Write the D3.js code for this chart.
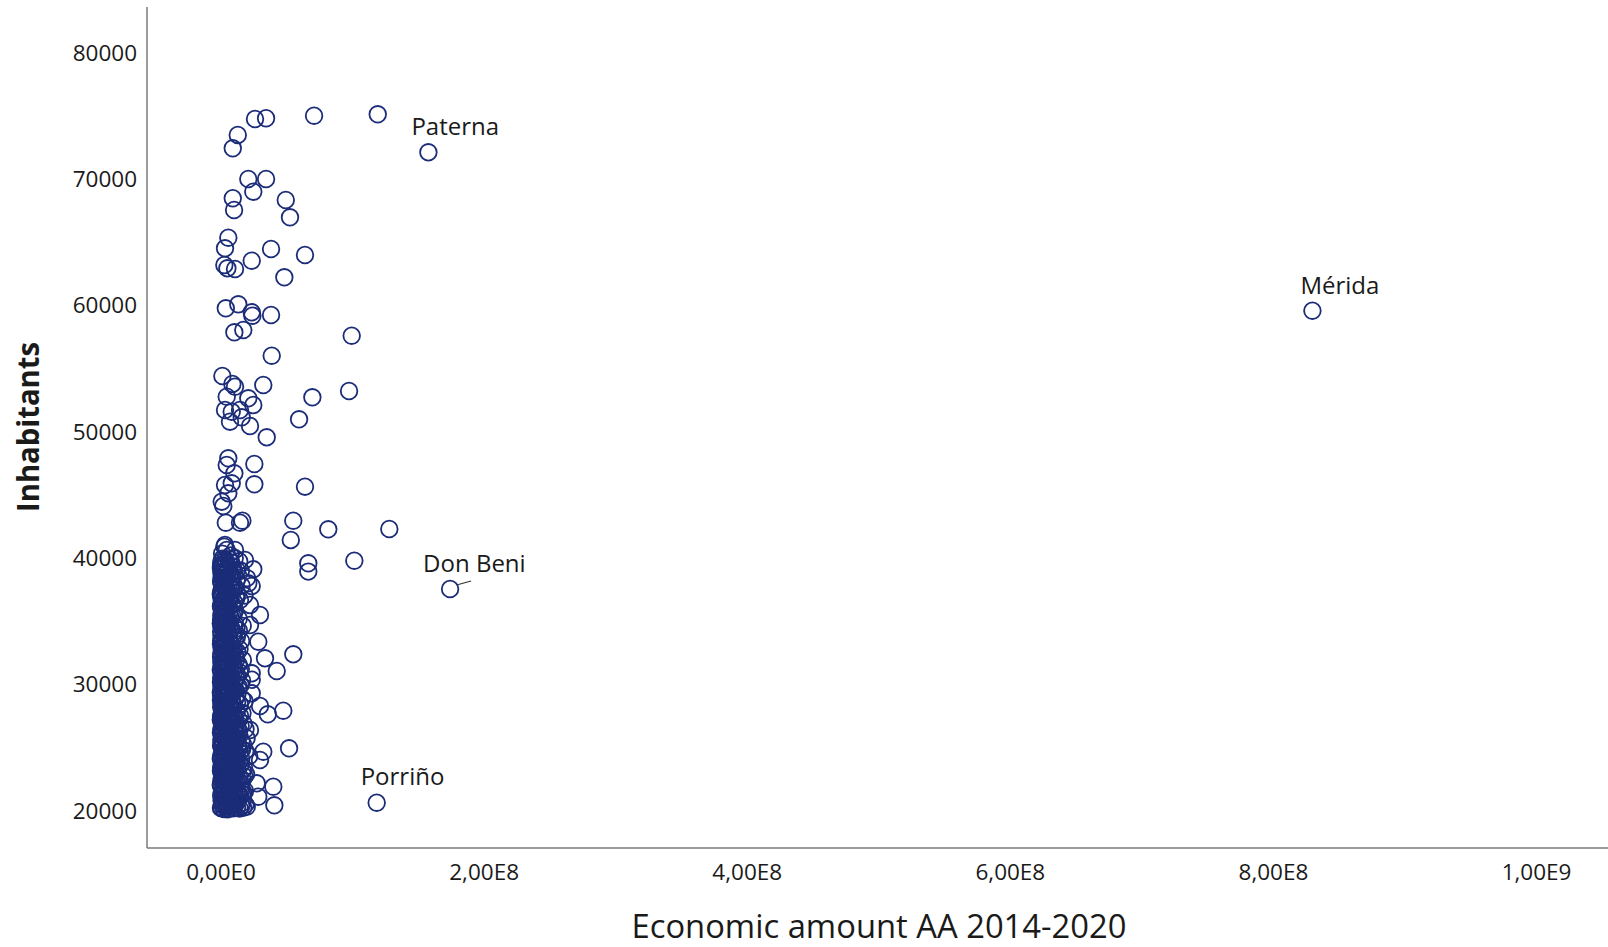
<!DOCTYPE html>
<html>
<head>
<meta charset="utf-8">
<script src="https://cdn.jsdelivr.net/npm/d3@7"></script>
<style>
  html, body { margin: 0; padding: 0; background: #fff; }
  svg { display: block; }
</style>
</head>
<body>
<svg id="chart" width="1608" height="947"></svg>
<script>
// ---------------- DATA ----------------
// Each point: [economic amount AA 2014-2020 in millions of euros, inhabitants]
const sparsePoints = [
  [26.2,74713],[34.6,74770],[71.1,74975],[119.5,75085],[13.1,73447],[9.3,72393],[21.1,69963],[34.6,69963],
  [24.9,68957],[9.3,68435],[10.3,67508],[49.6,68300],[52.8,66930],[5.9,65314],[3.4,64475],[38.4,64420],
  [64.2,63945],[23.7,63494],[2.9,63153],[5.2,62892],[11.0,62836],[48.5,62179],[4.0,59724],[13.5,60041],
  [23.7,59408],[24.2,59139],[38.4,59194],[10.5,57824],[17.3,58006],[99.7,57555],[38.9,55971],[1.4,54364],
  [9.0,53731],[11.0,53517],[32.5,53652],[4.7,52726],[21.1,52598],[24.9,52068],[69.8,52678],[97.7,53176],
  [3.4,51672],[8.5,51537],[14.8,51672],[7.2,50746],[16.1,51094],[22.4,50405],[59.7,50936],[35.1,49511],
  [5.9,47848],[4.7,47317],[10.5,46660],[25.7,47396],[3.4,45734],[8.5,45868],[5.9,45076],[25.7,45789],
  [64.2,45599],[0.9,44411],[2.1,44071],[4.0,42748],[14.8,42748],[16.6,42907],[55.3,42907],[53.4,41379],
  [81.9,42226],[128.3,42250],[3.4,40983],[4.7,40587],[11.0,40587],[18.6,39795],[24.9,39059],[0.3,39264],
  [5.9,39217],[12.3,39003],[66.7,39534],[66.7,38874],[101.7,39739],[0.9,37950],[8.5,37816],[23.7,37736],
  [30.0,35440],[28.7,33326],[33.8,32012],[55.3,32329],[42.7,31006],[23.7,30824],[21.1,37950],[22.4,36232],
  [22.4,34648],[47.7,27863],[30.0,28235],[35.9,27578],[52.1,24885],[32.5,24616],[30.0,23959],[40.1,21845],
  [40.9,20372],[27.5,22114],[19.9,20261],[28.7,21053],[22.4,26334],[23.7,29240],[23.7,30310]
];

const densePoints = [
  [0.3,20150],[1.2,20420],[2.8,20080],[4.5,20610],[6.1,20290],[7.9,20830],[9.6,20140],[11.8,20520],[13.4,20950],[15.7,20310],[0.8,20760],[3.6,20880],[5.4,20050],[8.7,20470],[10.9,20700],[17.2,20180],[2.1,20350],[12.6,20230],
  [0.5,21120],[1.9,21560],[3.3,21840],[4.8,21270],[6.6,21690],[8.2,21030],[9.9,21410],[11.3,21880],[13.8,21220],[16.1,21630],[0.2,21950],[2.7,21330],[5.9,21480],[7.4,21770],[14.9,21090],[18.6,21510],
  [0.4,22060],[1.6,22430],[3.1,22790],[4.2,22210],[5.7,22620],[7.1,22940],[8.8,22330],[10.4,22710],[12.2,22150],[14.3,22560],[0.9,22880],[2.4,22280],[6.4,22480],[9.3,22020],[16.8,22390],[19.4,22830],
  [0.3,23110],[1.4,23520],[2.9,23860],[4.6,23250],[6.0,23690],[7.7,23040],[9.2,23430],[11.1,23810],[13.0,23180],[15.3,23600],[0.7,23950],[3.8,23370],[8.4,23740],[10.6,23090],[17.9,23280],
  [0.2,24070],[1.3,24480],[2.6,24850],[4.0,24230],[5.5,24640],[7.3,24910],[8.9,24320],[10.8,24710],[12.7,24140],[14.6,24550],[1.0,24920],[3.4,24390],[6.8,24010],[16.4,24800],[21.8,24270],
  [0.4,25090],[1.8,25470],[3.2,25830],[4.9,25210],[6.3,25620],[7.8,25950],[9.5,25350],[11.6,25740],[13.5,25130],[0.6,25560],[2.3,25290],[5.2,25910],[8.5,25060],[15.9,25420],[19.8,25680],
  [0.3,26120],[1.5,26540],[2.8,26870],[4.4,26260],[6.2,26680],[7.6,26030],[9.7,26410],[11.9,26790],[0.8,26950],[3.7,26370],[5.6,26020],[10.2,26590],[14.1,26240],[17.5,26830],
  [0.2,27140],[1.7,27510],[3.0,27880],[4.7,27270],[6.5,27700],[8.1,27060],[9.8,27430],[12.4,27820],[0.9,27360],[2.5,27960],[5.3,27590],[7.2,27230],[13.9,27150],[16.7,27680],
  [0.5,28160],[1.3,28580],[2.7,28930],[4.3,28320],[5.8,28740],[7.5,28090],[9.4,28470],[11.2,28850],[0.3,28700],[3.5,28250],[6.9,28510],[14.7,28380],[18.3,28620],
  [0.4,29080],[1.9,29460],[3.3,29830],[4.8,29250],[6.4,29660],[8.0,29940],[10.1,29370],[12.8,29150],[0.7,29720],[2.2,29540],[5.1,29010],[15.2,29890],
  [0.3,30130],[1.6,30570],[2.9,30900],[4.5,30280],[6.2,30710],[8.6,30420],[10.7,30060],[0.8,30840],[3.6,30350],[12.9,30630],[16.3,30250],
  [0.2,31100],[1.4,31480],[3.1,31850],[4.9,31230],[6.7,31620],[8.3,31950],[10.3,31340],[0.6,31700],[2.4,31260],[13.6,31540],[17.0,31880],
  [0.4,32090],[1.8,32530],[3.4,32870],[5.2,32240],[7.0,32660],[9.1,32410],[11.5,32160],[0.9,32780],[2.6,32350],[14.4,32720],
  [0.3,33150],[1.5,33560],[2.8,33920],[4.6,33310],[6.3,33700],[8.8,33040],[10.9,33470],[0.7,33810],[3.9,33220],[15.6,33380],
  [0.5,34110],[1.7,34490],[3.2,34860],[5.0,34270],[7.4,34650],[9.6,34030],[12.1,34390],[0.2,34770],[2.3,34330],[16.9,34580],
  [0.4,35070],[1.3,35520],[2.9,35890],[4.7,35230],[6.6,35640],[8.9,35380],[11.0,35810],[0.8,35960],[3.5,35300],[13.8,35150],
  [0.3,36140],[1.9,36560],[3.6,36910],[5.4,36290],[7.7,36700],[10.4,36420],[0.6,36800],[2.2,36350],[14.8,36620],[18.2,36980],
  [0.2,37080],[1.6,37470],[3.0,37830],[5.1,37250],[7.3,37610],[9.9,37390],[0.9,37920],[4.2,37540],[12.6,37140],[16.0,37760],
  [0.4,38130],[1.4,38550],[2.7,38890],[4.4,38300],[6.8,38670],[9.2,38460],[12.3,38210],[0.7,38750],[15.5,38940],[20.1,38360],
  [0.3,39120],[1.8,39480],[3.3,39820],[5.6,39270],[8.1,39600],[10.8,39950],[0.5,39390],[14.2,39700],
  [1.2,40300],[2.9,40850],[7.6,40150]
];

// Second batch of small municipalities read from the densest part of the cloud
const densePoints2 = [
  [0.6,20240],[2.4,20560],[3.9,20330],[5.9,20720],[7.2,20410],[9.1,20900],[10.3,20380],[12.1,20640],[14.5,20110],[16.6,20590],[1.7,20990],[4.8,20170],[18.9,20440],
  [0.9,21300],[2.2,21700],[3.9,21060],[5.3,21920],[7.0,21380],[8.8,21830],[10.6,21170],[12.5,21540],[15.4,21780],[1.1,21450],[17.4,21260],
  [0.7,22350],[2.0,22680],[3.6,22100],[4.9,22970],[6.8,22240],[8.1,22780],[9.8,22520],[11.3,22870],[13.2,22400],[15.6,22090],[1.3,22560],[18.1,22650],
  [0.5,23390],[2.1,23740],[3.3,23060],[5.3,23580],[6.9,23910],[8.6,23300],[10.2,23640],[12.0,23450],[14.1,23870],[16.6,23120],[1.9,23200],
  [0.6,24310],[1.9,24680],[3.0,24120],[4.7,24830],[6.2,24470],[7.9,24190],[9.6,24600],[11.7,24380],[13.6,24870],[15.7,24060],[2.2,24560],[18.8,24680],
  [0.8,25330],[2.6,25720],[4.1,25480],[5.7,25150],[7.1,25380],[8.9,25810],[10.4,25230],[12.5,25570],[14.4,25880],[1.4,25960],[17.1,25180],
  [0.6,26370],[2.1,26160],[3.3,26720],[5.0,26490],[6.9,26290],[8.4,26850],[10.9,26110],[12.9,26480],[15.3,26650],[1.2,26780],[19.0,26390],
  [0.4,27420],[2.3,27260],[3.6,27640],[5.9,27110],[7.8,27530],[9.1,27890],[10.9,27310],[14.8,27460],[1.3,27770],[4.2,27970],
  [0.8,28390],[2.0,28120],[3.9,28630],[5.2,28940],[6.6,28260],[8.5,28710],[10.3,28220],[12.6,28540],[16.4,28810],[1.7,28860],
  [0.2,29310],[1.3,29920],[2.8,29190],[4.2,29560],[5.7,29830],[7.3,29270],[9.2,29610],[11.4,29480],[13.8,29750],[3.6,29390],
  [0.5,30460],[2.3,30190],[3.9,30690],[5.4,30960],[7.1,30260],[9.6,30780],[11.8,30390],[1.2,30300],[14.6,30890],
  [0.9,31390],[2.1,31800],[3.8,31090],[5.7,31470],[7.5,31230],[9.3,31720],[11.9,31900],[1.6,31590],[15.4,31170],
  [0.6,32420],[2.2,32150],[4.1,32580],[6.1,32930],[8.1,32300],[10.2,32720],[1.3,32960],[12.8,32500],
  [0.5,33420],[2.1,33090],[3.4,33650],[5.4,33900],[7.6,33250],[9.8,33780],[1.2,33310],[12.4,33690],
  [0.8,34420],[2.6,34070],[4.1,34620],[6.2,34950],[8.3,34340],[10.8,34760],[1.4,34900],[13.9,34220],
  [0.6,35420],[2.1,35160],[4.0,35700],[5.8,35940],[7.8,35250],[10.1,35550],[1.7,35740],
  [0.9,36410],[2.8,36180],[4.5,36620],[6.5,36880],[9.0,36250],[1.3,36950],[12.0,36770],
  [0.5,37330],[2.3,37680],[3.9,37120],[6.1,37890],[8.4,37450],[1.2,37240],[11.1,37620],
  [0.8,38380],[2.1,38200],[3.6,38650],[5.5,38940],[7.9,38320],[1.1,38840],[10.6,38710],
  [0.6,39650],[2.4,39160],[4.3,39540],[6.9,39850],[1.4,39900],[9.4,39220]
];

const labelNames = ["Paterna", "Mérida", "Don Beni", "Porriño"];
const labelAmounts = [158.0, 830.0, 174.5, 118.7];          // millions of euros
const labelInhabitants = [72075, 59533, 37498, 20578];

const xTickValues = [0, 2e8, 4e8, 6e8, 8e8, 1e9];
const xTickLabels = ["0,00E0", "2,00E8", "4,00E8", "6,00E8", "8,00E8", "1,00E9"];
const yTickValues = [20000, 30000, 40000, 50000, 60000, 70000, 80000];
const yTickLabels = ["20000", "30000", "40000", "50000", "60000", "70000", "80000"];

const xTitle = "Economic amount AA 2014-2020";
const yTitle = "Inhabitants";

// ---------------- LAYOUT / STYLE ----------------
const layout = {
  left: 147, right: 1608, top: 7, bottom: 848,
  xDomain: [-55.9e6, 1054.7e6],
  yDomain: [16990, 83580],
  r: 8.3
};
const labelOffsets = {
  "Paterna": [-17, -17],
  "Mérida": [-12, -17],
  "Don Beni": [-27, -17],
  "Porriño": [-16, -18]
};
const pointColor = "#1b2c78";
const textColor = "#1a1a1a";
const axisColor = "#7a7a7a";
const FONT = "'Open Sans', 'DejaVu Sans', sans-serif";

// ---------------- DRAW ----------------
const svg = d3.select("#chart");
svg.append("rect").attr("width", 1608).attr("height", 947).attr("fill", "#fff");

const x = d3.scaleLinear().domain(layout.xDomain).range([layout.left, layout.right]);
const y = d3.scaleLinear().domain(layout.yDomain).range([layout.bottom, layout.top]);

// Y axis
const yAxis = d3.axisLeft(y)
  .tickValues(yTickValues)
  .tickFormat((d, i) => yTickLabels[i])
  .tickSize(0).tickPadding(10);
const gy = svg.append("g").attr("transform", `translate(${layout.left},0)`).call(yAxis);
gy.select(".domain").attr("stroke", axisColor).attr("stroke-width", 1.5)
  .attr("d", `M0,${layout.top}V${layout.bottom}`);
gy.selectAll("text").attr("font-family", FONT).attr("font-size", 22.5)
  .attr("fill", textColor).attr("dy", "0.36em");

// X axis
const xAxis = d3.axisBottom(x)
  .tickValues(xTickValues)
  .tickFormat((d, i) => xTickLabels[i])
  .tickSize(0).tickPadding(0);
const gx = svg.append("g").attr("transform", `translate(0,${layout.bottom})`).call(xAxis);
gx.select(".domain").attr("stroke", axisColor).attr("stroke-width", 1.5)
  .attr("d", `M${layout.left},0H${layout.right}`);
gx.selectAll("text").attr("font-family", FONT).attr("font-size", 22.5)
  .attr("fill", textColor).attr("y", 32).attr("dy", 0);

// Axis titles
svg.append("text")
  .attr("x", 879).attr("y", 938)
  .attr("text-anchor", "middle")
  .attr("font-family", FONT).attr("font-size", 32)
  .attr("textLength", 495).attr("lengthAdjust", "spacingAndGlyphs")
  .attr("fill", textColor)
  .text(xTitle);

svg.append("text")
  .attr("transform", "translate(38.5,427) rotate(-90)")
  .attr("text-anchor", "middle")
  .attr("font-family", FONT).attr("font-size", 31).attr("font-weight", "bold")
  .attr("textLength", 170).attr("lengthAdjust", "spacingAndGlyphs")
  .attr("fill", textColor)
  .text(yTitle);

// Points
const allPoints = densePoints.concat(densePoints2).concat(sparsePoints)
  .concat(labelAmounts.map((a, i) => [a, labelInhabitants[i]]));

svg.append("g")
  .selectAll("circle")
  .data(allPoints)
  .join("circle")
  .attr("cx", d => x(d[0] * 1e6))
  .attr("cy", d => y(d[1]))
  .attr("r", layout.r)
  .attr("fill", "none")
  .attr("stroke", pointColor)
  .attr("stroke-width", 1.8);

// Labels
const labels = labelNames.map((n, i) => ({ name: n, a: labelAmounts[i] * 1e6, v: labelInhabitants[i] }));
svg.append("g").selectAll("text")
  .data(labels)
  .join("text")
  .attr("x", d => x(d.a) + labelOffsets[d.name][0])
  .attr("y", d => y(d.v) + labelOffsets[d.name][1])
  .attr("font-family", FONT).attr("font-size", 24)
  .attr("fill", textColor)
  .text(d => d.name);

// Leader line for Don Beni
const db = labels.find(d => d.name === "Don Beni");
svg.append("line")
  .attr("x1", x(db.a) + 6.5).attr("y1", y(db.v) - 4)
  .attr("x2", x(db.a) + 21).attr("y2", y(db.v) - 8)
  .attr("stroke", "#333").attr("stroke-width", 1.2);
</script>
</body>
</html>
